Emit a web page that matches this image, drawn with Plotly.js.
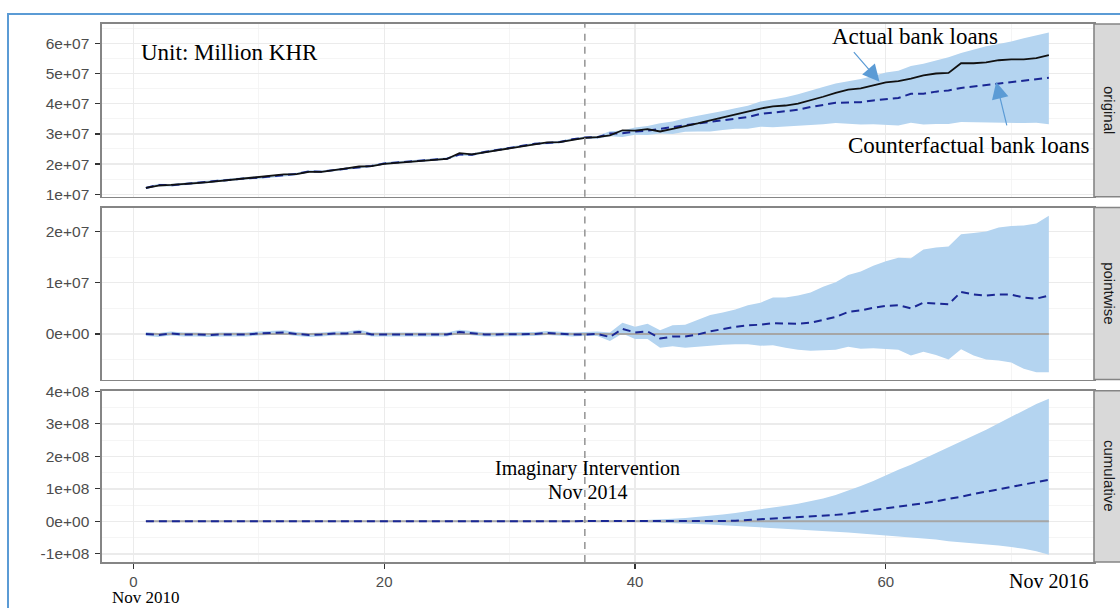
<!DOCTYPE html>
<html>
<head>
<meta charset="utf-8">
<script src="https://cdn.plot.ly/plotly-3.0.1.min.js"></script>
<style>
  html, body { margin: 0; padding: 0; background: #fff; }
  #wrap { position: relative; width: 1120px; height: 608px; overflow: hidden; }
  #chart { position: absolute; left: 0; top: 0; width: 1120px; height: 608px; }
  #frame { position: absolute; left: 7px; top: 13px; width: 1120px; height: 620px;
           border-left: 2px solid #5B9BD5; border-top: 2px solid #5B9BD5; pointer-events: none; }
</style>
</head>
<body>
<div id="wrap"><div id="chart"></div><div id="frame"></div></div>
<script>
// ---------- data ----------
const months = [1,2,3,4,5,6,7,8,9,10,11,12,13,14,15,16,17,18,19,20,21,22,23,24,25,26,27,28,29,30,31,32,33,34,35,36,
  37,38,39,40,41,42,43,44,45,46,47,48,49,50,51,52,53,54,55,56,57,58,59,60,61,62,63,64,65,66,67,68,69,70,71,72,73];
const interventionMonth = 36;
const UNIT_E7 = 1e7;   // values below for "original" and "pointwise" are in units of 1e7
const UNIT_E8 = 1e8;   // values below for "cumulative" are in units of 1e8

const actualPre = [1.21,1.29,1.31,1.33,1.37,1.40,1.44,1.50,1.52,1.56,1.61,1.66,1.67,1.74,1.74,1.81,1.86,1.92,1.93,2.01,2.04,2.07,2.11,2.14,2.17,2.36,2.32,2.39,2.46,2.52,2.59,2.67,2.72,2.73,2.81,2.87];
const actualPost = [2.89,2.95,3.12,3.11,3.16,3.08,3.17,3.25,3.35,3.45,3.55,3.65,3.73,3.84,3.91,3.94,4.00,4.11,4.23,4.36,4.47,4.51,4.62,4.71,4.75,4.83,4.94,5.00,5.02,5.34,5.34,5.37,5.44,5.47,5.47,5.51,5.61];

const counterPre = [1.21,1.31,1.30,1.34,1.38,1.42,1.45,1.51,1.53,1.55,1.59,1.63,1.67,1.76,1.75,1.80,1.85,1.88,1.94,2.02,2.05,2.08,2.12,2.16,2.18,2.32,2.31,2.40,2.47,2.53,2.59,2.67,2.70,2.73,2.82,2.88];
const counterPost = [2.89,3.01,3.02,3.08,3.11,3.17,3.22,3.30,3.36,3.40,3.45,3.51,3.56,3.66,3.70,3.74,3.80,3.89,3.95,4.03,4.04,4.05,4.11,4.16,4.19,4.33,4.33,4.40,4.44,4.52,4.57,4.62,4.67,4.70,4.76,4.82,4.86];

const counterUpperPre = [1.25,1.35,1.34,1.38,1.42,1.46,1.49,1.55,1.57,1.59,1.63,1.67,1.71,1.80,1.79,1.84,1.89,1.92,1.98,2.06,2.09,2.12,2.16,2.20,2.22,2.36,2.35,2.44,2.51,2.57,2.63,2.71,2.74,2.77,2.86,2.91];
const counterUpperPost = [2.93,3.09,3.11,3.21,3.26,3.35,3.41,3.52,3.60,3.67,3.76,3.85,3.93,4.07,4.13,4.21,4.31,4.44,4.55,4.67,4.74,4.82,4.92,5.03,5.09,5.25,5.32,5.43,5.54,5.68,5.80,5.90,5.98,6.06,6.17,6.27,6.36];
const counterLowerPre = [1.17,1.27,1.26,1.30,1.34,1.38,1.41,1.47,1.49,1.51,1.55,1.59,1.63,1.72,1.71,1.76,1.81,1.84,1.90,1.98,2.01,2.04,2.08,2.12,2.14,2.28,2.27,2.36,2.43,2.49,2.55,2.63,2.66,2.69,2.78,2.83];
const counterLowerPost = [2.84,2.92,2.90,2.97,2.96,3.01,3.00,3.07,3.08,3.08,3.13,3.17,3.17,3.24,3.22,3.24,3.26,3.30,3.32,3.36,3.34,3.31,3.32,3.31,3.28,3.37,3.31,3.33,3.33,3.39,3.38,3.38,3.37,3.37,3.36,3.37,3.32];

const pointPre = [0,-0.02,0.01,-0.01,-0.01,-0.02,-0.01,-0.01,-0.01,0.01,0.02,0.03,0,-0.02,-0.01,0.01,0.01,0.04,-0.01,-0.01,-0.01,-0.01,-0.01,-0.02,-0.01,0.04,0.01,-0.01,-0.01,-0.01,0,0,0.02,0,-0.01,-0.01];
const pointPost = [0,-0.06,0.10,0.03,0.05,-0.09,-0.05,-0.05,-0.01,0.05,0.10,0.14,0.17,0.18,0.21,0.20,0.20,0.22,0.28,0.33,0.43,0.46,0.51,0.55,0.56,0.50,0.61,0.60,0.58,0.82,0.77,0.75,0.77,0.77,0.71,0.69,0.75];
const pointUpperPre = [0.04,0.02,0.05,0.03,0.03,0.02,0.03,0.03,0.03,0.05,0.06,0.07,0.04,0.02,0.03,0.05,0.05,0.08,0.03,0.03,0.03,0.03,0.03,0.02,0.03,0.08,0.05,0.03,0.03,0.03,0.04,0.04,0.06,0.04,0.03,0.04];
const pointUpperPost = [0.05,0.03,0.22,0.14,0.20,0.07,0.17,0.18,0.27,0.37,0.42,0.48,0.56,0.61,0.71,0.71,0.75,0.81,0.92,1.01,1.15,1.22,1.33,1.42,1.49,1.48,1.65,1.69,1.71,1.95,1.97,2.00,2.08,2.11,2.12,2.16,2.31];
const pointLowerPre = [-0.04,-0.06,-0.03,-0.05,-0.05,-0.06,-0.05,-0.05,-0.05,-0.03,-0.02,-0.01,-0.04,-0.06,-0.05,-0.03,-0.03,0,-0.05,-0.05,-0.05,-0.05,-0.05,-0.06,-0.05,0,-0.03,-0.05,-0.05,-0.05,-0.04,-0.04,-0.02,-0.04,-0.05,-0.04];
const pointLowerPost = [-0.04,-0.14,0.01,-0.10,-0.10,-0.27,-0.24,-0.27,-0.25,-0.22,-0.21,-0.20,-0.20,-0.23,-0.22,-0.27,-0.31,-0.33,-0.32,-0.31,-0.25,-0.29,-0.28,-0.29,-0.31,-0.42,-0.35,-0.41,-0.50,-0.30,-0.42,-0.50,-0.52,-0.56,-0.68,-0.75,-0.75];

const cumPre = [0,0,0,0,0,0,0,0,0,0,0,0,0,0,0,0,0,0,0,0,0,0,0,0,0,0,0,0,0,0,0,0,0,0,0,0];
const cumPost = [0,0,0.01,0.01,0.01,0,0,-0.01,-0.01,-0.005,0.01,0.02,0.04,0.06,0.08,0.10,0.12,0.14,0.17,0.20,0.24,0.29,0.34,0.40,0.45,0.50,0.56,0.62,0.68,0.76,0.84,0.91,0.99,1.07,1.14,1.21,1.28];
const cumUpperPost = [0.01,0.01,0.02,0.03,0.04,0.06,0.08,0.10,0.13,0.17,0.21,0.26,0.31,0.38,0.43,0.48,0.54,0.61,0.70,0.81,0.94,1.09,1.24,1.42,1.59,1.74,1.92,2.09,2.27,2.44,2.64,2.82,3.02,3.22,3.43,3.61,3.77];
const cumLowerPost = [-0.01,-0.01,-0.02,-0.02,-0.03,-0.04,-0.05,-0.06,-0.08,-0.10,-0.12,-0.14,-0.16,-0.18,-0.21,-0.23,-0.25,-0.27,-0.29,-0.32,-0.34,-0.37,-0.40,-0.44,-0.47,-0.51,-0.53,-0.56,-0.61,-0.64,-0.67,-0.70,-0.74,-0.79,-0.84,-0.92,-1.03];

const xTickVals = [0,20,40,60];
const xTickText = ['0','20','40','60'];
const xMinorVals = [10,30,50,70];

const origTickVals = [1e7,2e7,3e7,4e7,5e7,6e7];
const origTickText = ['1e+07','2e+07','3e+07','4e+07','5e+07','6e+07'];
const origMinorVals = [1.5e7,2.5e7,3.5e7,4.5e7,5.5e7,6.5e7];
const pointTickVals = [0,1e7,2e7];
const pointTickText = ['0e+00','1e+07','2e+07'];
const pointMinorVals = [-0.5e7,0.5e7,1.5e7];
const cumTickVals = [-1e8,0,1e8,2e8,3e8,4e8];
const cumTickText = ['-1e+08','0e+00','1e+08','2e+08','3e+08','4e+08'];
const cumMinorVals = [-0.5e8,0.5e8,1.5e8,2.5e8,3.5e8];

const stripLabels = ['original','pointwise','cumulative'];
const startLabel = 'Nov 2010';
const endLabel = 'Nov 2016';

// ---------- build ----------
const sc = (arr, u) => arr.map(v => v * u);
const actual = sc(actualPre.concat(actualPost), UNIT_E7);
const counter = sc(counterPre.concat(counterPost), UNIT_E7);
const cUp = sc(counterUpperPre.concat(counterUpperPost), UNIT_E7);
const cLo = sc(counterLowerPre.concat(counterLowerPost), UNIT_E7);
const pw = sc(pointPre.concat(pointPost), UNIT_E7);
const pUp = sc(pointUpperPre.concat(pointUpperPost), UNIT_E7);
const pLo = sc(pointLowerPre.concat(pointLowerPost), UNIT_E7);
const cum = sc(cumPre.concat(cumPost), UNIT_E8);
const cumUp = sc(cumPre.concat(cumUpperPost), UNIT_E8);
const cumLo = sc(cumPre.concat(cumLowerPost), UNIT_E8);
const zeros = months.map(() => 0);

const RIBBON = '#B4D4F0';
const DASHC = '#1A2794';
const DASH = '8px,5px';

function ribbon(lo, up, xa, ya) {
  return [
    {x: months, y: lo, xaxis: xa, yaxis: ya, type: 'scatter', mode: 'lines', line: {width: 0, color: RIBBON}, hoverinfo: 'skip', showlegend: false},
    {x: months, y: up, xaxis: xa, yaxis: ya, type: 'scatter', mode: 'lines', line: {width: 0, color: RIBBON}, fill: 'tonexty', fillcolor: RIBBON, hoverinfo: 'skip', showlegend: false}
  ];
}

const traces = [].concat(
  ribbon(cLo, cUp, 'x', 'y'),
  [{x: months, y: counter, xaxis: 'x', yaxis: 'y', type: 'scatter', mode: 'lines', line: {color: DASHC, width: 2, dash: DASH}, showlegend: false},
   {x: months, y: actual, xaxis: 'x', yaxis: 'y', type: 'scatter', mode: 'lines', line: {color: '#111111', width: 1.8}, showlegend: false}],
  ribbon(pLo, pUp, 'x2', 'y2'),
  [{x: months, y: zeros, xaxis: 'x2', yaxis: 'y2', type: 'scatter', mode: 'lines', line: {color: '#A6A6A6', width: 2}, showlegend: false},
   {x: months, y: pw, xaxis: 'x2', yaxis: 'y2', type: 'scatter', mode: 'lines', line: {color: DASHC, width: 2, dash: DASH}, showlegend: false}],
  ribbon(cumLo, cumUp, 'x3', 'y3'),
  [{x: months, y: zeros, xaxis: 'x3', yaxis: 'y3', type: 'scatter', mode: 'lines', line: {color: '#A6A6A6', width: 2}, showlegend: false},
   {x: months, y: cum, xaxis: 'x3', yaxis: 'y3', type: 'scatter', mode: 'lines', line: {color: DASHC, width: 2, dash: DASH}, showlegend: false}]
);

const TICKFONT = {family: 'Liberation Sans, Arial, sans-serif', size: 15.5, color: '#4D4D4D'};
const XTICKFONT = {family: 'Liberation Sans, Arial, sans-serif', size: 15, color: '#4D4D4D'};
const SERIF = 'Liberation Serif, Times New Roman, serif';

function xax(anchor, showLabels) {
  return {
    anchor: anchor, range: [-2.5, 76.6], tickmode: 'array', tickvals: xTickVals, ticktext: xTickText,
    showticklabels: showLabels, ticks: showLabels ? 'outside' : '', ticklen: 5, tickwidth: 1.2, tickcolor: '#333',
    tickfont: XTICKFONT, ticklabelstandoff: 0,
    showgrid: true, gridcolor: '#EBEBEB', gridwidth: 1.3,
    minor: {tickmode: 'array', tickvals: xMinorVals, showgrid: true, gridcolor: '#F2F2F2', gridwidth: 0.8, ticks: ''},
    showline: true, mirror: true, linecolor: '#858585', linewidth: 1.6, zeroline: false, fixedrange: true
  };
}
function yax(domain, range, tv, tt, mv) {
  return {
    domain: domain, range: range, tickmode: 'array', tickvals: tv, ticktext: tt,
    ticks: 'outside', ticklen: 5, tickwidth: 1.2, tickcolor: '#333', tickfont: TICKFONT, ticklabelstandoff: 3,
    showgrid: true, gridcolor: '#EBEBEB', gridwidth: 1.3,
    minor: {tickmode: 'array', tickvals: mv, showgrid: true, gridcolor: '#F2F2F2', gridwidth: 0.8, ticks: ''},
    showline: true, mirror: true, linecolor: '#858585', linewidth: 1.6, zeroline: false, fixedrange: true
  };
}

const yRefs = ['y', 'y2', 'y3'];
const shapes = [];
yRefs.forEach((yr) => {
  shapes.push({type: 'rect', xref: 'paper', yref: yr + ' domain', x0: 1.0, x1: 1.031, y0: 0, y1: 1,
               fillcolor: '#D9D9D9', line: {color: '#858585', width: 1.6}, layer: 'above'});
});
['x', 'x2', 'x3'].forEach((xr, i) => {
  shapes.push({type: 'line', xref: xr, yref: yRefs[i] + ' domain', x0: interventionMonth, x1: interventionMonth, y0: 0, y1: 1,
               line: {color: '#9A9A9A', width: 1.6, dash: '7px,6px'}, layer: 'above'});
});

const annotations = [];
yRefs.forEach((yr, i) => {
  annotations.push({xref: 'paper', yref: yr + ' domain', x: 1.0155, y: 0.5, xanchor: 'center', yanchor: 'middle',
                    text: stripLabels[i], showarrow: false,
                    textangle: 90, font: {family: 'Liberation Sans, Arial, sans-serif', size: 15, color: '#1A1A1A'}});
});
annotations.push(
  {xref: 'x', yref: 'y', x: 0.45, y: 5.71e7, xanchor: 'left', yanchor: 'middle', text: 'Unit: Million KHR', showarrow: false,
   font: {family: SERIF, size: 23, color: '#000'}},
  {xref: 'x', yref: 'y', x: 62.3, y: 6.21e7, xanchor: 'center', yanchor: 'middle', text: 'Actual bank loans', showarrow: false,
   font: {family: SERIF, size: 23, color: '#000'}},
  {xref: 'x', yref: 'y', x: 66.6, y: 2.63e7, xanchor: 'center', yanchor: 'middle', text: 'Counterfactual bank loans', showarrow: false,
   font: {family: SERIF, size: 23, color: '#000'}},
  {xref: 'x', yref: 'y', x: 59.5, y: 4.73e7, text: '', showarrow: true, ax: -27, ay: -31,
   arrowcolor: '#5B9BD5', arrowhead: 2, arrowsize: 2.8, arrowwidth: 1.2, standoff: 0},
  {xref: 'x', yref: 'y', x: 68.8, y: 4.72e7, text: '', showarrow: true, ax: 11, ay: 45,
   arrowcolor: '#5B9BD5', arrowhead: 2, arrowsize: 2.8, arrowwidth: 1.2, standoff: 0},
  {xref: 'x3', yref: 'y3', x: 36.2, y: 1.64e8, xanchor: 'center', yanchor: 'middle', text: 'Imaginary Intervention', showarrow: false,
   font: {family: SERIF, size: 20, color: '#000'}},
  {xref: 'x3', yref: 'y3', x: 36.2, y: 0.90e8, xanchor: 'center', yanchor: 'middle', text: 'Nov 2014', showarrow: false,
   font: {family: SERIF, size: 20, color: '#000'}},
  {xref: 'x3', yref: 'paper', x: months[0], y: -0.066, xanchor: 'center', yanchor: 'middle', text: startLabel, showarrow: false,
   font: {family: SERIF, size: 17, color: '#000'}},
  {xref: 'x3', yref: 'paper', x: months[months.length - 1], y: -0.035, xanchor: 'center', yanchor: 'middle', text: endLabel, showarrow: false,
   font: {family: SERIF, size: 20, color: '#000'}}
);

const layout = {
  width: 1120, height: 608,
  margin: {l: 102, r: 26, t: 24, b: 46, pad: 0},
  paper_bgcolor: '#FFFFFF', plot_bgcolor: '#FFFFFF',
  showlegend: false,
  xaxis: xax('y', false),
  xaxis2: xax('y2', false),
  xaxis3: xax('y3', true),
  yaxis: yax([0.679, 1], [0.92e7, 6.64e7], origTickVals, origTickText, origMinorVals),
  yaxis2: yax([0.3392, 0.6589], [-0.89e7, 2.47e7], pointTickVals, pointTickText, pointMinorVals),
  yaxis3: yax([0, 0.3184], [-1.25e8, 4.02e8], cumTickVals, cumTickText, cumMinorVals),
  shapes: shapes,
  annotations: annotations
};

Plotly.newPlot('chart', traces, layout, {displayModeBar: false, staticPlot: true});
</script>
</body>
</html>
